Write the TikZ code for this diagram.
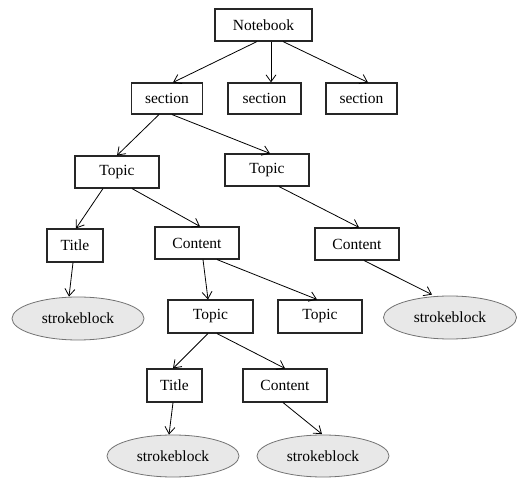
\documentclass[tikz,border=0pt]{standalone}
\usepackage{fontspec}
\setmainfont{Liberation Serif}
\usepackage{tikz}
\usetikzlibrary{shapes.geometric,arrows.meta}

\begin{document}
\begin{tikzpicture}[x=1pt,y=-1pt,
  box/.style={rectangle,draw=black!85,line width=1.1pt,minimum height=32pt,inner sep=0pt,font=\fontsize{15.5}{18}\selectfont},
  blob/.style={ellipse,draw=black!55,line width=0.8pt,fill=black!9,minimum width=132pt,minimum height=43pt,inner sep=0pt,font=\fontsize{15.5}{18}\selectfont},
  arr/.style={-{Straight Barb[length=7pt,width=10pt]},line width=0.8pt}]
\useasboundingbox (0,0) rectangle (520,478);

\node[box,minimum width=97pt] (nb) at (263.5,25) {Notebook};

\node[box,minimum width=71pt,minimum height=31pt] (s1) at (167,98.5) {section};
\node[box,minimum width=73pt,minimum height=31pt] (s2) at (264.5,98.5) {section};
\node[box,minimum width=71pt,minimum height=31pt] (s3) at (361.5,98.5) {section};

\node[box,minimum width=84pt] (tp1) at (117,172) {Topic};
\node[box,minimum width=84pt] (tp2) at (267,170) {Topic};

\node[box,minimum width=56pt,minimum height=33pt] (ti1) at (75,245.5) {Title};
\node[box,minimum width=84pt] (ct1) at (197,243) {Content};
\node[box,minimum width=84pt] (ct2) at (357,244) {Content};

\node[blob] (sb1) at (78,318.5) {strokeblock};
\node[box,minimum width=85pt,minimum height=33pt] (tp3) at (210.5,316.5) {Topic};
\node[box,minimum width=84pt,minimum height=33pt] (tp4) at (320,316.5) {Topic};
\node[blob,minimum width=133pt] (sb4) at (450,317.5) {strokeblock};

\node[box,minimum width=55pt,minimum height=33pt] (ti2) at (174.5,385.5) {Title};
\node[box,minimum width=84pt,minimum height=33pt] (ct3) at (285,385.5) {Content};

\node[blob,minimum height=42pt] (sb2) at (173,456) {strokeblock};
\node[blob,minimum height=42pt] (sb3) at (323,456) {strokeblock};

% edges, spread over the box sides
\draw[arr] ([xshift=-6.5pt]nb.south) -- ([xshift=6pt]s1.north);
\draw[arr] ([xshift=7.5pt]nb.south) -- ([xshift=6.5pt]s2.north);
\draw[arr] ([xshift=19.5pt]nb.south) -- ([xshift=6.5pt]s3.north);

\draw[arr] ([xshift=-8pt]s1.south) -- (tp1.north);
\draw[arr] ([xshift=5pt]s1.south) -- ([xshift=3pt]tp2.north);

\draw[arr] ([xshift=-14pt]tp1.south) -- ([xshift=1pt]ti1.north);
\draw[arr] ([xshift=15pt]tp1.south) -- ([xshift=3pt]ct1.north);
\draw[arr] ([xshift=12pt]tp2.south) -- ([xshift=2pt]ct2.north);

\draw[arr] ([xshift=-2pt]ti1.south) -- ([xshift=-9pt]sb1.north);
\draw[arr] ([xshift=6pt]ct1.south) -- ([xshift=-2.5pt]tp3.north);
\draw[arr] ([xshift=20pt]ct1.south) -- ([xshift=-3pt]tp4.north);
\draw[arr] ([xshift=7pt]ct2.south) -- ([xshift=-18pt,yshift=1pt]sb4.north);

\draw[arr] ([xshift=-2.5pt]tp3.south) -- ([xshift=-1.5pt]ti2.north);
\draw[arr] ([xshift=6.5pt]tp3.south) -- (ct3.north);
\draw[arr] ([xshift=-1.5pt]ti2.south) -- ([xshift=-4pt]sb2.north);
\draw[arr] ([xshift=-2pt]ct3.south) -- ([xshift=-1pt,yshift=0.5pt]sb3.north);
\end{tikzpicture}
\end{document}
